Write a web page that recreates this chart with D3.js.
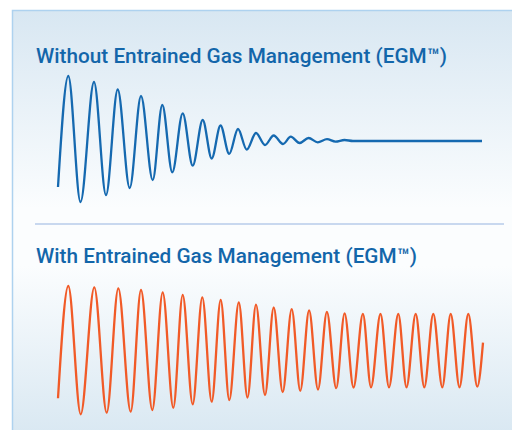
<!DOCTYPE html>
<html>
<head>
<meta charset="utf-8">
<script src="https://cdn.jsdelivr.net/npm/d3@7"></script>
<style>
html,body{margin:0;padding:0;background:#fff;}
svg{display:block;}
</style>
</head>
<body>
<svg id="chart" width="512" height="430"></svg>
<script>
// Titles
const titles = ["Without Entrained Gas Management (EGM\u2122)", "With Entrained Gas Management (EGM\u2122)"];

// Series 1: without EGM (time, amplitude) at the extremes of the oscillation
const timeWithout = [0, 10.3, 22.5, 36, 48, 59.7, 71.7, 83, 94.7, 104.3, 114.3, 124.7, 134.7, 144.7, 153.7, 162.5, 171.2, 180, 188.7, 198, 207, 215.7, 225, 232.8, 241.6, 250.6, 259.7, 269, 277.5, 286.5, 295, 424];
const valueWithout = [-46, 65, -61, 59, -54, 51.5, -47, 45, -39, 36, -31.3, 27.7, -24.7, 21, -17.5, 15.5, -12.8, 12, -8.6, 8, -4, 5.5, -3, 4.3, -2, 3, -1.3, 1.8, -0.6, 1, 0, 0];

// Series 2: with EGM
const timeWith = [0, 10.3, 22.7, 36.3, 48.7, 60.3, 72.7, 83, 94.3, 104.7, 115.3, 124.7, 134.7, 144.3, 153.7, 162.7, 171.3, 180.8, 189.5, 198, 207, 215.7, 224.7, 233.7, 242.3, 251.1, 260, 268.9, 278.2, 286.6, 295.5, 304.9, 313, 322.5, 331, 340.3, 348.5, 357.7, 366.3, 375.3, 384.3, 392.7, 401.5, 410.3, 419.3, 425];
const valueWith = [-47.8, 64.5, -63.8, 63.2, -62.2, 62.2, -61.2, 60.5, -59.5, 58.2, -57.2, 55.5, -53.8, 53.2, -51.2, 50.5, -49.5, 48, -47, 45.8, -44.5, 43, -41.5, 41.3, -40.3, 40, -39, 38.5, -37.7, 37.2, -37, 36.5, -36.8, 36.5, -36.8, 36.5, -36.8, 36.5, -36.8, 36.5, -36.8, 36.5, -36.8, 36.5, -36.2, 7.8];

const svg = d3.select("#chart");
const defs = svg.append("defs");
const grad = defs.append("linearGradient").attr("id","bg").attr("x1",0).attr("y1",0).attr("x2",0).attr("y2",1);
grad.append("stop").attr("offset","0%").attr("stop-color","#d8e7f2");
grad.append("stop").attr("offset","45%").attr("stop-color","#fbfdfe");
grad.append("stop").attr("offset","58%").attr("stop-color","#fbfdfe");
grad.append("stop").attr("offset","100%").attr("stop-color","#d6e6f1");

svg.append("rect").attr("x",12.5).attr("y",10.5).attr("width",520).attr("height",440)
  .attr("fill","url(#bg)").attr("stroke","#aed2ef").attr("stroke-width",1.5);

// divider
svg.append("line").attr("x1",35).attr("x2",504).attr("y1",224).attr("y2",224)
  .attr("stroke","#b7cbea").attr("stroke-width",1.6);

const x = d3.scaleLinear().domain([0, 425]).range([58, 483]);
const yTop = d3.scaleLinear().domain([-70, 70]).range([211, 71]);
const yBot = d3.scaleLinear().domain([-70, 70]).range([420.5, 280.5]);

function drawTitle(text, yBase, width) {
  svg.append("text").attr("x",36).attr("y",yBase).text(text)
    .attr("font-family","Roboto, 'DejaVu Sans', sans-serif").attr("font-size",20.5).attr("font-weight",500)
    .attr("fill","#1366aa").attr("textLength",width).attr("lengthAdjust","spacingAndGlyphs");
}
drawTitle(titles[0], 63, 411);
drawTitle(titles[1], 263, 381);

const dataTop = timeWithout.map((t,i)=>({t, v:valueWithout[i]}));
const dataBot = timeWith.map((t,i)=>({t, v:valueWith[i]}));

const lineTop = d3.line().x(d=>x(d.t)).y(d=>yTop(d.v)).curve(d3.curveMonotoneX);
const lineBot = d3.line().x(d=>x(d.t)).y(d=>yBot(d.v)).curve(d3.curveMonotoneX);

svg.append("path").datum(dataTop).attr("d",lineTop).attr("fill","none")
  .attr("stroke","#1569b0").attr("stroke-width",2.3).attr("stroke-linejoin","round");
svg.append("path").datum(dataBot).attr("d",lineBot).attr("fill","none")
  .attr("stroke","#f15a27").attr("stroke-width",2.3).attr("stroke-linejoin","round");
</script>
</body>
</html>
